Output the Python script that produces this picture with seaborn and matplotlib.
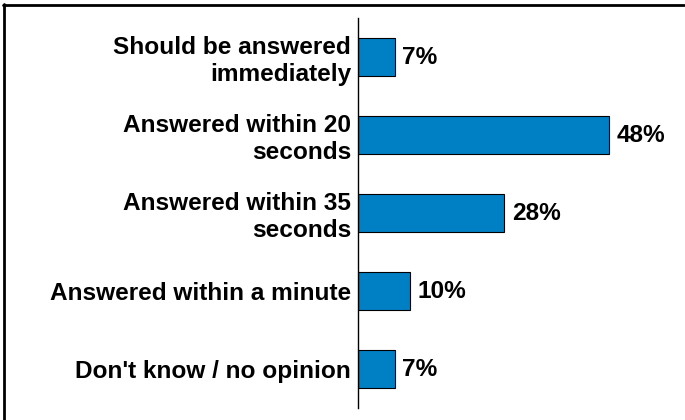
import seaborn as sns
import matplotlib.pyplot as plt
import pandas as pd

categories = ["Should be answered\nimmediately",
              "Answered within 20\nseconds",
              "Answered within 35\nseconds",
              "Answered within a minute",
              "Don't know / no opinion"]
values = [7, 48, 28, 10, 7]
value_labels = ["7%", "48%", "28%", "10%", "7%"]

sns.set_style("white")
plt.rcParams['font.family'] = ['Liberation Sans', 'DejaVu Sans']

df = pd.DataFrame({"answer": categories, "pct": values})

fig = plt.figure(figsize=(6.85, 4.2), dpi=100)
ax = fig.add_axes([358/685, 12/420, 320/685, 390/420])

sns.barplot(data=df, x="pct", y="answer", orient="h", color="#0080C4",
            saturation=1, edgecolor="black", linewidth=0.8, width=0.49, ax=ax)

for p, lab in zip(ax.patches, value_labels):
    ax.annotate(lab, (p.get_width(), p.get_y() + p.get_height() / 2),
                xytext=(5.5, 0), textcoords="offset points", va="center", ha="left",
                fontsize=17.6, fontweight="bold", color="black")

ax.set_xlim(0, 61.3)
ax.set_ylim(4.5, -0.5)
ax.set_xlabel("")
ax.set_ylabel("")
ax.set_xticks([])
ax.tick_params(axis="y", length=0, pad=5)
for t in ax.get_yticklabels():
    t.set_fontsize(17.6)
    t.set_fontweight("bold")
    t.set_color("black")
    t.set_horizontalalignment("right")
    t.set_multialignment("right")
sns.despine(ax=ax, top=True, right=True, bottom=True)
ax.spines["left"].set_color("black")
ax.spines["left"].set_linewidth(1.0)

# outer frame (only left and top visible in the crop)
fig.add_artist(plt.Line2D([4/685, 4/685], [0, 1 - 4/420], color="black", lw=2, transform=fig.transFigure))
fig.add_artist(plt.Line2D([3/685, 684/685], [1 - 4.5/420, 1 - 4.5/420], color="black", lw=2, transform=fig.transFigure))

plt.savefig("out.png", dpi=100)
